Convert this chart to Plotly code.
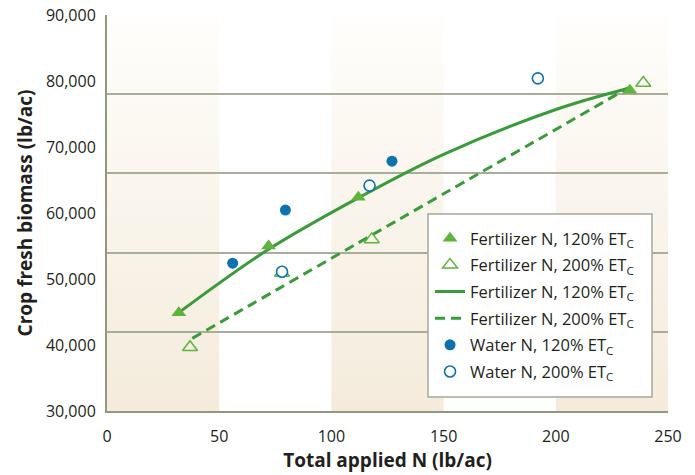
import base64
import plotly.graph_objects as go

# ---- data ----
fert120_x = [32, 72, 112, 233]
fert120_y = [44900, 55000, 62400, 78600]
fert200_x = [37, 78, 118, 239]
fert200_y = [39650, 50900, 56000, 79700]
water120_x = [56, 79.5, 127]
water120_y = [52400, 60450, 67850]
water200_x = [78, 117, 192]
water200_y = [51100, 64150, 80400]

# trend curves
curve120_x = [32, 72, 112, 150, 201, 233]
curve120_y = [44900, 54500, 62300, 68900, 75800, 78950]
curve200_x = [38, 130, 233]
curve200_y = [41000, 59000, 79100]

x_ticks = [0, 50, 100, 150, 200, 250]
y_ticks = [30000, 40000, 50000, 60000, 70000, 80000, 90000]

FONT = "Open Sans"
TXT = "#231F20"
GREEN_LINE = "#3A9B3A"
GREEN_MK = "#5EB33D"
BLUE = "#0B72AE"

# background bands (every other x interval, vertical gradient)
x0, x1 = x_ticks[0], x_ticks[-1]
y0, y1 = y_ticks[0], y_ticks[-1]
rects = ""
for i in range(0, len(x_ticks) - 1, 2):
    rects += '<rect x="%g" y="0" width="%g" height="100" fill="url(#g)"/>' % (
        x_ticks[i] - x0, x_ticks[i + 1] - x_ticks[i])
svg = ('<svg xmlns="http://www.w3.org/2000/svg" width="%g" height="100" viewBox="0 0 %g 100" '
       'preserveAspectRatio="none"><defs><linearGradient id="g" x1="0" y1="1" x2="0" y2="0">'
       '<stop offset="0" stop-color="#F4EBDB"/><stop offset="1" stop-color="#FFFEFC"/>'
       '</linearGradient></defs>%s</svg>') % (x1 - x0, x1 - x0, rects)
src = "data:image/svg+xml;base64," + base64.b64encode(svg.encode()).decode()

ET = " ET<sub>C</sub>"
fig = go.Figure()
fig.add_trace(go.Scatter(x=curve120_x, y=curve120_y, mode="lines",
                         name="Fertilizer N, 120%" + ET, line_shape="spline",
                         line=dict(color=GREEN_LINE, width=3, smoothing=1.0),
                         legendrank=3, legendgroup="g3"))
fig.add_trace(go.Scatter(x=curve200_x, y=curve200_y, mode="lines",
                         name="Fertilizer N, 200%" + ET, line_shape="spline",
                         line=dict(color=GREEN_LINE, width=3, dash="10px,6px"),
                         legendrank=4, legendgroup="g4"))
fig.add_trace(go.Scatter(x=fert120_x, y=fert120_y, mode="markers",
                         name="Fertilizer N, 120%" + ET,
                         marker=dict(symbol="triangle-up", size=13, color=GREEN_MK,
                                     line=dict(width=0)),
                         legendrank=1, legendgroup="g1"))
fig.add_trace(go.Scatter(x=fert200_x, y=fert200_y, mode="markers",
                         name="Fertilizer N, 200%" + ET,
                         marker=dict(symbol="triangle-up-open", size=13, color=GREEN_MK,
                                     line=dict(width=1.5, color=GREEN_MK)),
                         legendrank=2, legendgroup="g2"))
fig.add_trace(go.Scatter(x=water120_x, y=water120_y, mode="markers",
                         name="Water N, 120%" + ET,
                         marker=dict(symbol="circle", size=11, color=BLUE),
                         legendrank=5, legendgroup="g5"))
fig.add_trace(go.Scatter(x=water200_x, y=water200_y, mode="markers",
                         name="Water N, 200%" + ET,
                         marker=dict(symbol="circle", size=11, color="white",
                                     line=dict(width=1.6, color=BLUE)),
                         legendrank=6, legendgroup="g6"))

fig.update_layout(
    width=695, height=475,
    margin=dict(l=107, r=27, t=15, b=64, autoexpand=False),
    paper_bgcolor="white",
    plot_bgcolor="white",
    font=dict(family=FONT, size=16, color=TXT),
    showlegend=True,
    legend=dict(x=0.5758, y=0.4798, xanchor="left", yanchor="top",
                bgcolor="rgba(0,0,0,0)", borderwidth=0,
                font=dict(family=FONT, size=16.5, color=TXT),
                traceorder="grouped", tracegroupgap=2.2,
                itemwidth=30),
    # legend frame
    shapes=[dict(type="rect", xref="x domain", yref="y domain",
                 x0=0.5722, x1=0.9715, y0=0.0354, y1=0.4975,
                 fillcolor="white", line=dict(color="#A3AA96", width=1.5),
                 layer="above")],
    images=[dict(source=src, xref="x", yref="y", x=x0, y=y1, sizex=x1 - x0, sizey=y1 - y0,
                 sizing="stretch", layer="below", xanchor="left", yanchor="top")],
)
fig.update_xaxes(range=[x0, x1], tickvals=x_ticks, showgrid=False, zeroline=False,
                 showline=True, linecolor="#8E9A7E", linewidth=2, automargin=False,
                 ticks="", ticklabelstandoff=10,
                 tickfont=dict(family=FONT, size=16, color=TXT),
                 title=dict(text="<b>Total applied N (lb/ac)</b>", standoff=6,
                            font=dict(family=FONT, size=19, color=TXT)))
fig.update_yaxes(range=[y0, y1], tickvals=y_ticks, tickformat=",", showgrid=False,
                 zeroline=False, showline=True, linecolor="#8E9A7E", linewidth=2,
                 automargin=False,
                 ticks="", ticklabelstandoff=6,
                 tickfont=dict(family=FONT, size=16, color=TXT),
                 minor=dict(tick0=y0, dtick=(y1 - y0) / 5, showgrid=True,
                            gridcolor="#A9AE9A", gridwidth=1.5, ticks=""),
                 title=dict(text="<b>Crop fresh biomass (lb/ac)</b>", standoff=8,
                            font=dict(family=FONT, size=19, color=TXT)))

fig.write_html("out.html", config={"displayModeBar": False},
               post_script="document.body.style.margin='0';")
